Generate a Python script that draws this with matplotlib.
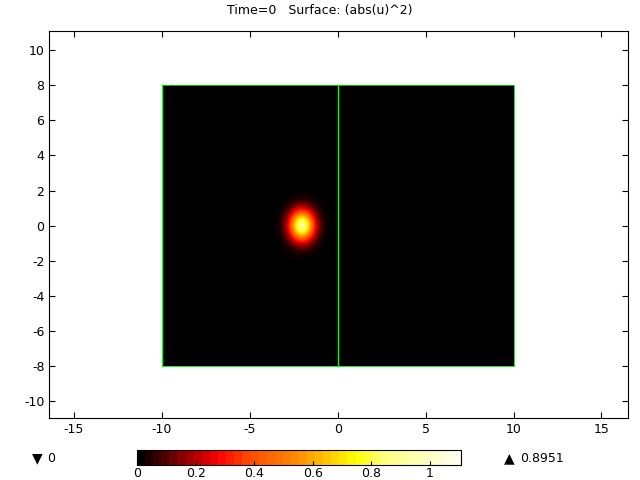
import numpy as np
import matplotlib
matplotlib.use("Agg")
import matplotlib.pyplot as plt
from matplotlib.colors import LinearSegmentedColormap, Normalize
from matplotlib.cm import ScalarMappable

# ---- data ----
title_text = "Time=0   Surface: (abs(u)^2)"
domain_x = [-10.0, 10.0]
domain_y = [-8.0, 8.0]
divider_x = [0.0]
peak_center = [-2.05, 0.0]
peak_widths = [0.5, 0.62]
peak_value = 0.8951
min_value = 0.0
colorbar_max = 1.105
colorbar_ticks = [0, 0.2, 0.4, 0.6, 0.8, 1]
colorbar_ticklabels = ["0", "0.2", "0.4", "0.6", "0.8", "1"]
xticks = [-15, -10, -5, 0, 5, 10, 15]
yticks = [-10, -8, -6, -4, -2, 0, 2, 4, 6, 8, 10]

# colour table
cmap_nodes = [0.0, 0.244, 0.335, 0.50, 0.68, 0.77, 1.0]
cmap_colors = [(0, 0, 0), (1, 0, 0), (1, 0.27, 0), (1, 0.56, 0),
               (1, 1, 0), (1, 1, 0.5), (1, 1, 0.93)]
cmap = LinearSegmentedColormap.from_list("comsolhot", list(zip(cmap_nodes, cmap_colors)), N=40)
cmap_smooth = LinearSegmentedColormap.from_list("comsolhot_s", list(zip(cmap_nodes, cmap_colors)), N=256)
norm = Normalize(vmin=0, vmax=colorbar_max)

fig = plt.figure(figsize=(6.4, 4.8), dpi=100)
ax = fig.add_axes([0.077, 0.129, 0.904, 0.806])

xs = np.linspace(domain_x[0], domain_x[1], 500)
ys = np.linspace(domain_y[0], domain_y[1], 400)
X, Y = np.meshgrid(xs, ys)
Z = peak_value * np.exp(-((X - peak_center[0]) ** 2) / (2 * peak_widths[0] ** 2)
                        - ((Y - peak_center[1]) ** 2) / (2 * peak_widths[1] ** 2))
ax.imshow(Z, extent=[domain_x[0], domain_x[1], domain_y[0], domain_y[1]], origin="lower",
          cmap=cmap_smooth, norm=norm, interpolation="bilinear", aspect="auto", zorder=1)

# domain outline and interior boundary
ax.plot([domain_x[0], domain_x[1], domain_x[1], domain_x[0]],
        [domain_y[1], domain_y[1], domain_y[0], domain_y[0]],
        color="#00dd00", lw=0.6, zorder=3)
ax.plot([domain_x[0], domain_x[0]], domain_y, color="#00ff00", lw=1.0, zorder=3)
for dx in divider_x:
    ax.plot([dx, dx], domain_y, color="#00ff00", lw=1.0, zorder=3)

ax.set_xlim(-16.4, 16.5)
ax.set_ylim(-11.0, 11.1)
ax.set_xticks(xticks)
ax.set_yticks(yticks)
ax.set_xticklabels([str(v) for v in xticks])
ax.set_yticklabels([str(v) for v in yticks])
ax.tick_params(direction="in", top=True, right=True, labelsize=9, length=4, width=0.8)
for s in ax.spines.values():
    s.set_linewidth(0.8)
fig.text(0.5, 0.978, title_text, ha="center", va="center", fontsize=9)

# colour bar
cax = fig.add_axes([0.214, 0.031, 0.506, 0.031])
sm = ScalarMappable(norm=norm, cmap=cmap)
cb = fig.colorbar(sm, cax=cax, orientation="horizontal", ticks=colorbar_ticks)
cb.set_ticklabels(colorbar_ticklabels)
cb.ax.tick_params(direction="in", length=3, labelsize=9, pad=1)
cb.outline.set_linewidth(0.8)

fig.text(0.05, 0.045, "\u25bc", ha="left", va="center", fontsize=10)
fig.text(0.074, 0.045, "{:g}".format(min_value), ha="left", va="center", fontsize=9)
fig.text(0.788, 0.045, "\u25b2", ha="left", va="center", fontsize=10)
fig.text(0.812, 0.045, "{:.4f}".format(peak_value), ha="left", va="center", fontsize=9)

fig.savefig("out.png", dpi=100)
